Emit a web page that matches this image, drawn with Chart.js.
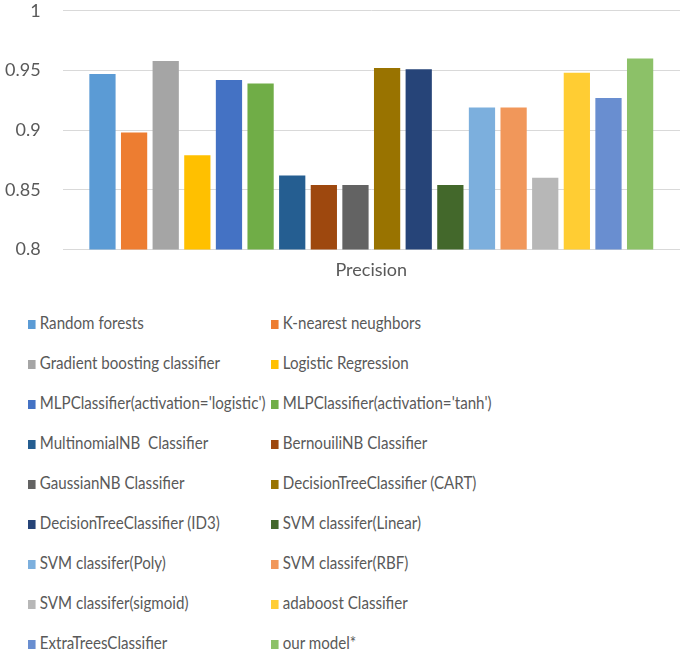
<!DOCTYPE html>
<html>
<head>
<meta charset="utf-8">
<script src="https://cdn.jsdelivr.net/npm/chart.js@4"></script>
<style>
  body { margin: 0; background: #fff; font-family: Lato, sans-serif; overflow: hidden; }
  #wrap { position: relative; width: 702px; height: 305px; margin-top: -22px; margin-left: -17px; }
  #legend { position: absolute; top: 302px; left: 0; width: 685px; }
  .item { position: absolute; height: 40px; line-height: 40px; font-size: 18px; color: #595959; white-space: pre;
          transform: scaleX(0.84); transform-origin: left center; }
  .sw { display: inline-block; width: 9px; height: 9px; margin-right: 5px; vertical-align: 0px; }
</style>
</head>
<body>
<div id="wrap"><canvas id="graph"></canvas></div>
<div id="legend"></div>
<script>
const categories = ['Precision'];
const models = [
  'Random forests', 'K-nearest neughbors',
  'Gradient boosting classifier', 'Logistic Regression',
  "MLPClassifier(activation='logistic')", "MLPClassifier(activation='tanh')",
  'MultinomialNB  Classifier', 'BernouiliNB Classifier',
  'GaussianNB Classifier', 'DecisionTreeClassifier (CART)',
  'DecisionTreeClassifier (ID3)', 'SVM classifer(Linear)',
  'SVM classifer(Poly)', 'SVM classifer(RBF)',
  'SVM classifer(sigmoid)', 'adaboost Classifier',
  'ExtraTreesClassifier', 'our model*'
];
const precision = [0.947, 0.898, 0.958, 0.879, 0.942, 0.939, 0.862, 0.854, 0.854,
                   0.952, 0.951, 0.854, 0.919, 0.919, 0.860, 0.948, 0.927, 0.960];
const colours = ['#5B9BD5', '#ED7D31', '#A5A5A5', '#FFC000', '#4472C4', '#70AD47',
                 '#255E91', '#9E480E', '#636363', '#997300', '#264478', '#43682B',
                 '#7CAFDD', '#F1975A', '#B7B7B7', '#FFCD33', '#698ED0', '#8CC168'];
const yTicks = [0.8, 0.85, 0.9, 0.95, 1];

new Chart(document.getElementById('graph'), {
  type: 'bar',
  data: {
    labels: categories,
    datasets: models.map((m, i) => ({
      label: m,
      data: [precision[i]],
      backgroundColor: colours[i],
      categoryPercentage: 0.922,
      barPercentage: 0.83
    }))
  },
  options: {
    responsive: true,
    maintainAspectRatio: false,
    animation: false,
    layout: { padding: { top: 4, right: 5, left: 0, bottom: 0 } },
    plugins: { legend: { display: false }, tooltip: { enabled: false } },
    scales: {
      x: {
        grid: { display: false },
        border: { display: false },
        ticks: { color: '#595959', font: { family: 'Lato', size: 18 }, padding: 2 }
      },
      y: {
        min: 0.8, max: 1,
        afterBuildTicks: axis => { axis.ticks = yTicks.map(v => ({ value: v })); },
        grid: { color: '#d9d9d9', drawTicks: false },
        border: { display: false },
        ticks: {
          color: '#595959', font: { family: 'Lato', size: 18 }, padding: 22,
          callback: v => String(Math.round(v * 100) / 100)
        }
      }
    }
  }
});

// two-column legend under the chart
const legend = document.getElementById('legend');
models.forEach((m, i) => {
  const d = document.createElement('div');
  d.className = 'item';
  d.style.left = (i % 2 ? 271 : 28) + 'px';
  d.style.top = (Math.floor(i / 2) * 40) + 'px';
  d.innerHTML = '<span class="sw" style="background:' + colours[i] + '"></span>' + m;
  legend.appendChild(d);
});
</script>
</body>
</html>
